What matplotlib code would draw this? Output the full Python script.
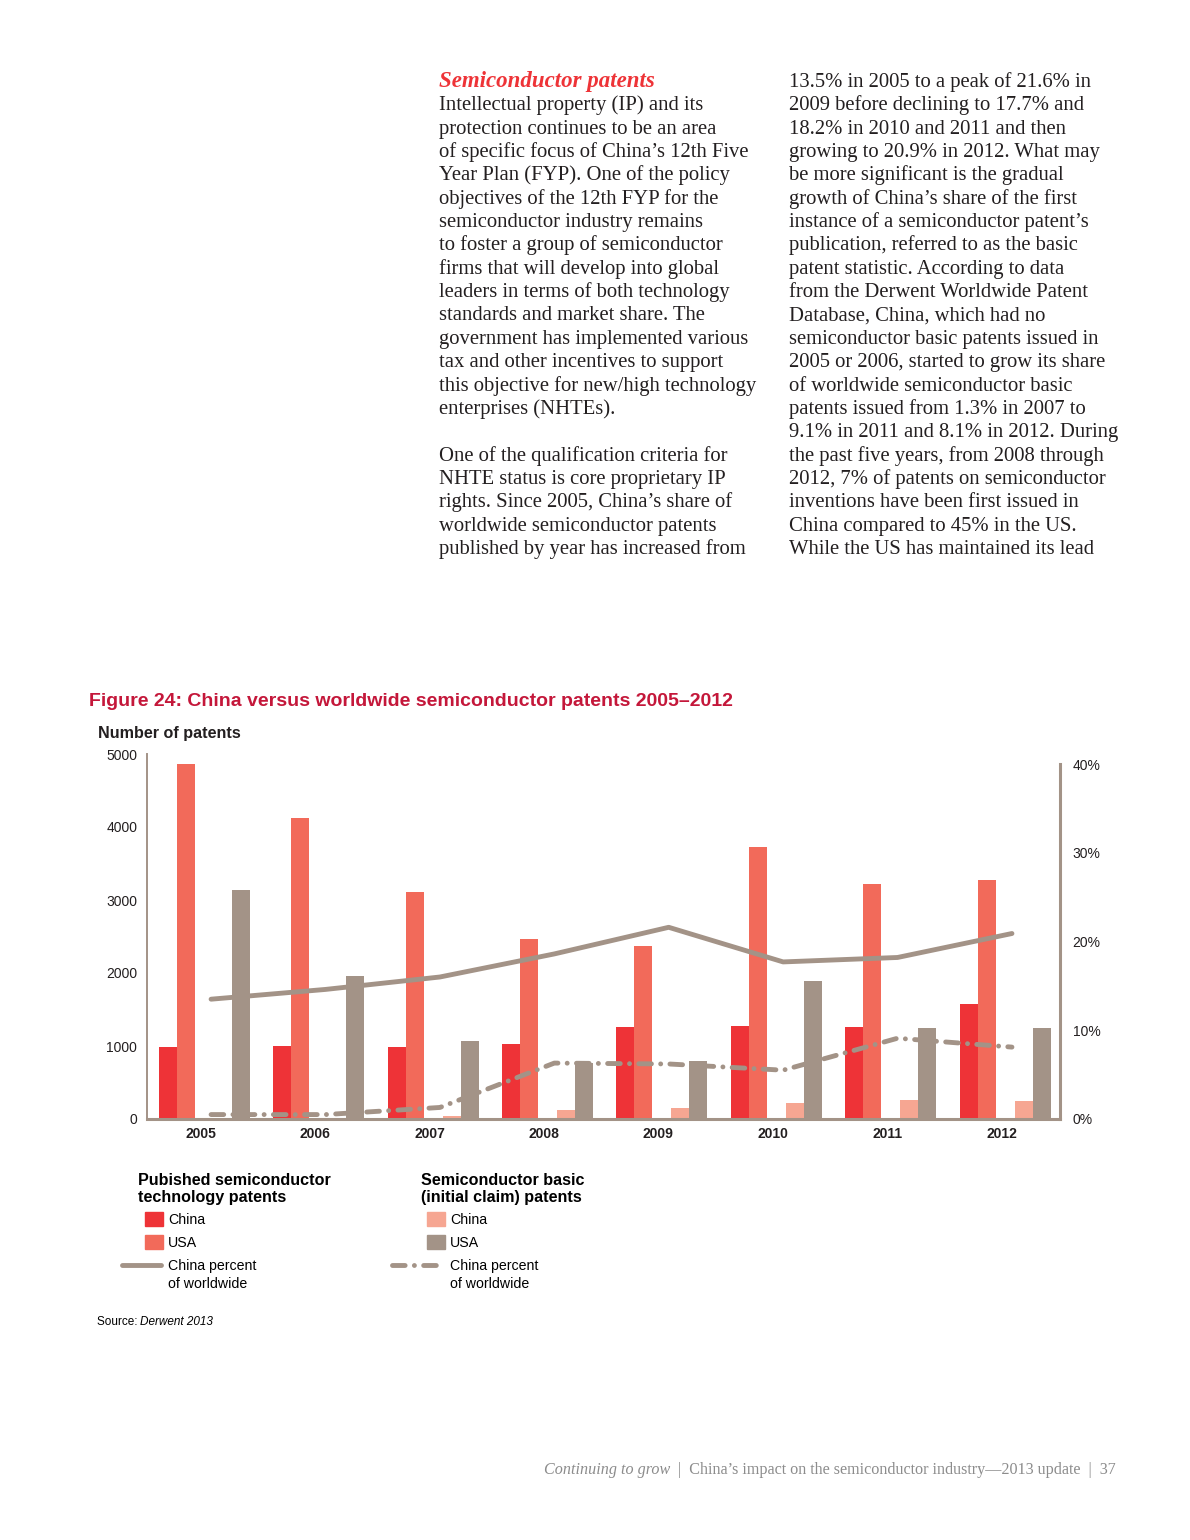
import numpy as np
import matplotlib.pyplot as plt
from matplotlib.patches import Rectangle
from matplotlib.lines import Line2D

plt.rcParams['font.family'] = ['Liberation Sans', 'DejaVu Sans']

years = ["2005", "2006", "2007", "2008", "2009", "2010", "2011", "2012"]
pub_china = [990, 1004, 990, 1027, 1260, 1274, 1260, 1575]
pub_usa = [4863, 4123, 3110, 2466, 2365, 3726, 3219, 3274]
pub_pct = [13.5, 14.6, 16.0, 18.6, 21.6, 17.7, 18.2, 20.9]
basic_china = [0, 0, 40, 130, 150, 219, 260, 247]
basic_usa = [3137, 1959, 1068, 767, 790, 1890, 1247, 1247]
basic_pct = [0.5, 0.5, 1.3, 6.3, 6.2, 5.5, 9.1, 8.1]

RED = "#EE3337"
SALMON = "#F26A5A"
PINK = "#F6A692"
GREY = "#A39387"
TITLE = "#C4173A"

W, H = 1190, 1540
fig = plt.figure(figsize=(W / 100, H / 100), dpi=100)


def fx(x):
    return x / W


def fy(y):
    return 1 - y / H


# ---- body text ----
left_col = [
    "Intellectual property (IP) and its",
    "protection continues to be an area",
    "of specific focus of China\u2019s 12th Five",
    "Year Plan (FYP). One of the policy",
    "objectives of the 12th FYP for the",
    "semiconductor industry remains",
    "to foster a group of semiconductor",
    "firms that will develop into global",
    "leaders in terms of both technology",
    "standards and market share. The",
    "government has implemented various",
    "tax and other incentives to support",
    "this objective for new/high technology",
    "enterprises (NHTEs).",
    "",
    "One of the qualification criteria for",
    "NHTE status is core proprietary IP",
    "rights. Since 2005, China\u2019s share of",
    "worldwide semiconductor patents",
    "published by year has increased from",
]
right_col = [
    "13.5% in 2005 to a peak of 21.6% in",
    "2009 before declining to 17.7% and",
    "18.2% in 2010 and 2011 and then",
    "growing to 20.9% in 2012. What may",
    "be more significant is the gradual",
    "growth of China\u2019s share of the first",
    "instance of a semiconductor patent\u2019s",
    "publication, referred to as the basic",
    "patent statistic. According to data",
    "from the Derwent Worldwide Patent",
    "Database, China, which had no",
    "semiconductor basic patents issued in",
    "2005 or 2006, started to grow its share",
    "of worldwide semiconductor basic",
    "patents issued from 1.3% in 2007 to",
    "9.1% in 2011 and 8.1% in 2012. During",
    "the past five years, from 2008 through",
    "2012, 7% of patents on semiconductor",
    "inventions have been first issued in",
    "China compared to 45% in the US.",
    "While the US has maintained its lead",
]
serif = ['Liberation Serif', 'DejaVu Serif']
body = 14.9
step = 23.35
fig.text(fx(439), fy(87), "Semiconductor patents", family=serif, fontsize=16.5,
         fontweight='bold', style='italic', color=RED, va='baseline')
for i, s in enumerate(left_col):
    fig.text(fx(439), fy(87 + step * (i + 1)), s, family=serif, fontsize=body,
             color="#231f20", va='baseline')
for i, s in enumerate(right_col):
    fig.text(fx(789), fy(87 + step * i), s, family=serif, fontsize=body,
             color="#231f20", va='baseline')

# ---- chart ----
fig.text(fx(89), fy(706), "Figure 24: China versus worldwide semiconductor patents 2005\u20132012",
         fontsize=14, fontweight='bold', color=TITLE, va='baseline')
fig.text(fx(98), fy(738), "Number of patents", fontsize=11.6, fontweight='bold',
         color="#231f20", va='baseline')

ax = fig.add_axes([fx(147), fy(1119), (1060 - 147) / W, 365 / H])
x = np.arange(len(years))
bw = 0.157
ax.bar(x - 0.289, pub_china, bw, color=RED, zorder=2)
ax.bar(x - 0.131, pub_usa, bw, color=SALMON, zorder=2)
ax.bar(x + 0.192, basic_china, bw, color=PINK, zorder=2)
ax.bar(x + 0.350, basic_usa, bw, color=GREY, zorder=2)
ax.set_xlim(-0.47, 7.51)
ax.set_ylim(0, 5000)
ax.set_yticks([0, 1000, 2000, 3000, 4000, 5000])
ax.set_xticks(x)
ax.set_xticklabels(years, fontweight='bold')
ax.tick_params(axis='both', length=0, labelsize=10, colors="#231f20")
ax.tick_params(axis='y', pad=7)
ax.tick_params(axis='x', pad=6)
for s in ['top', 'right']:
    ax.spines[s].set_visible(False)
ax.spines['left'].set_color(GREY)
ax.spines['left'].set_linewidth(1.4)
ax.spines['bottom'].set_color(GREY)
ax.spines['bottom'].set_linewidth(2.2)

ax2 = ax.twinx()
ax2.set_ylim(0, 365 / 8.875)
ax2.set_yticks([0, 10, 20, 30, 40])
ax2.set_yticklabels(["0%", "10%", "20%", "30%", "40%"])
ax2.tick_params(axis='y', length=0, labelsize=10, colors="#231f20", pad=9)
for s in ['top', 'left', 'bottom']:
    ax2.spines[s].set_visible(False)
ax2.spines['right'].set_color(GREY)
ax2.spines['right'].set_linewidth(2.2)
ax2.spines['right'].set_bounds(0, 40)

dash = (0, (2.6, 1.9, 0.01, 1.9))
ax2.plot(x + 0.09, pub_pct, color=GREY, lw=3.5, solid_capstyle='round', zorder=3)
ax2.plot(x + 0.09, basic_pct, color=GREY, lw=3.5, linestyle=dash,
         dash_capstyle='round', zorder=3)

# ---- legend ----
fig.text(fx(138), fy(1185), "Pubished semiconductor", fontsize=11.6, fontweight='bold', va='baseline')
fig.text(fx(138), fy(1202), "technology patents", fontsize=11.6, fontweight='bold', va='baseline')
fig.text(fx(421), fy(1185), "Semiconductor basic", fontsize=11.6, fontweight='bold', va='baseline')
fig.text(fx(421), fy(1202), "(initial claim) patents", fontsize=11.6, fontweight='bold', va='baseline')


def swatch(x0, y0, color):
    fig.add_artist(Rectangle((fx(x0), fy(y0 + 14)), 18 / W, 14 / H, color=color,
                             transform=fig.transFigure))


swatch(145, 1212, RED)
swatch(145, 1235, SALMON)
swatch(427, 1212, PINK)
swatch(427, 1235, GREY)
fig.add_artist(Line2D([fx(122), fx(161)], [fy(1265), fy(1265)], color=GREY, lw=3.5,
                      solid_capstyle='round', transform=fig.transFigure))
fig.add_artist(Line2D([fx(392), fx(444)], [fy(1265), fy(1265)], color=GREY, lw=3.5,
                      linestyle=dash, dash_capstyle='round', transform=fig.transFigure))
for lx in (168, 450):
    fig.text(fx(lx), fy(1224), "China", fontsize=10.2, va='baseline')
    fig.text(fx(lx), fy(1247), "USA", fontsize=10.2, va='baseline')
    fig.text(fx(lx), fy(1270), "China percent", fontsize=10.2, va='baseline')
    fig.text(fx(lx), fy(1288), "of worldwide", fontsize=10.2, va='baseline')

fig.text(fx(97), fy(1325), "Source: ", fontsize=8.5, va='baseline')
fig.text(fx(140), fy(1325), "Derwent 2013", fontsize=8.5, style='italic', va='baseline')

# ---- footer ----
foot = fig.text(fx(1116), fy(1474),
                "  |  China\u2019s impact on the semiconductor industry\u20142013 update  |  37",
                family=serif, fontsize=11.6, color="#8c8c8c", ha='right', va='baseline')
bb = foot.get_window_extent(renderer=fig.canvas.get_renderer())
fig.text(bb.x0 / W, fy(1474), "Continuing to grow", family=serif, fontsize=11.6,
         style='italic', color="#8c8c8c", ha='right', va='baseline')

fig.savefig("out.png", dpi=100)
